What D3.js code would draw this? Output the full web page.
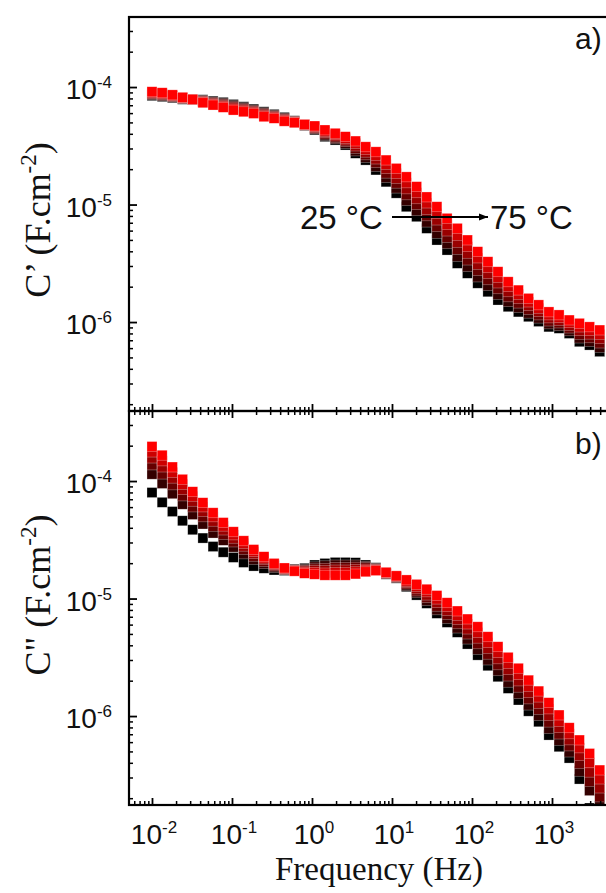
<!DOCTYPE html>
<html>
<head>
<meta charset="utf-8">
<script src="https://cdn.jsdelivr.net/npm/d3@7"></script>
<style>
body { margin: 0; background: #fff; }
</style>
</head>
<body>
<script>
// frequency (Hz)
const freq = [0.0100, 0.0134, 0.0180, 0.0241, 0.0323, 0.0433, 0.0580, 0.0777, 0.104, 0.140,
  0.187, 0.251, 0.336, 0.451, 0.604, 0.809, 1.08, 1.45, 1.95, 2.61,
  3.50, 4.69, 6.29, 8.43, 11.3, 15.1, 20.3, 27.2, 36.4, 48.8,
  65.5, 87.7, 118, 158, 211, 283, 380, 509, 682, 914,
  1225, 1641, 2200, 2948, 3950];

const temps = ["25", "35", "45", "55", "65", "75"];
const colors = ["#000000", "#330000", "#660000", "#990000", "#cc0000", "#ff0000"];

// C' in uF cm^-2
const cp25 = [84.3, 82.7, 80.9, 78.6, 78.2, 78.0, 76.0, 74.1, 71.1, 68.0,
  65.0, 61.6, 58.6, 55.3, 51.7, 47.0, 43.1, 37.8, 35.4, 32.1,
  27.3, 23.9, 19.7, 15.6, 12.5, 9.58, 7.88, 6.27, 4.99, 4.10,
  3.16, 2.60, 2.14, 1.81, 1.54, 1.35, 1.22, 1.11, 1.01, 0.91,
  0.884, 0.80, 0.68, 0.637, 0.56];
const cp35 = [85.6, 84.0, 81.9, 79.2, 78.3, 77.1, 74.8, 72.7, 69.6, 66.7,
  63.9, 60.4, 57.7, 54.5, 51.3, 47.2, 43.8, 38.8, 36.3, 33.2,
  28.6, 25.2, 21.1, 17.0, 13.8, 10.8, 8.86, 7.09, 5.69, 4.64,
  3.62, 2.96, 2.42, 2.04, 1.72, 1.49, 1.33, 1.19, 1.08, 0.965,
  0.932, 0.843, 0.731, 0.684, 0.609];
const cp45 = [87.0, 85.3, 82.8, 79.8, 78.3, 76.2, 73.7, 71.3, 68.0, 65.4,
  62.8, 59.3, 56.8, 53.6, 50.9, 47.4, 44.5, 39.8, 37.3, 34.3,
  30.1, 26.5, 22.7, 18.5, 15.2, 12.1, 9.97, 8.02, 6.48, 5.26,
  4.16, 3.37, 2.74, 2.29, 1.92, 1.64, 1.45, 1.28, 1.15, 1.02,
  0.982, 0.889, 0.785, 0.735, 0.663];
const cp55 = [88.4, 86.7, 83.8, 80.5, 78.4, 75.3, 72.5, 69.9, 66.6, 64.1,
  61.7, 58.1, 55.9, 52.8, 50.5, 47.6, 45.2, 40.9, 38.3, 35.4,
  31.5, 27.9, 24.4, 20.2, 16.7, 13.6, 11.2, 9.07, 7.38, 5.95,
  4.77, 3.85, 3.10, 2.58, 2.15, 1.81, 1.58, 1.38, 1.23, 1.085,
  1.035, 0.936, 0.844, 0.789, 0.722];
const cp65 = [89.8, 88.0, 84.8, 81.1, 78.4, 74.4, 71.4, 68.5, 65.1, 62.8,
  60.6, 57.0, 55.0, 52.0, 50.1, 47.8, 45.9, 42.0, 39.3, 36.6,
  33.1, 29.4, 26.2, 22.0, 18.4, 15.3, 12.6, 10.3, 8.41, 6.74,
  5.47, 4.38, 3.51, 2.90, 2.40, 2.00, 1.72, 1.48, 1.31, 1.15,
  1.09, 0.987, 0.907, 0.847, 0.786];
const cp75 = [91.2, 89.4, 85.8, 81.7, 78.5, 73.5, 70.3, 67.2, 63.7, 61.6,
  59.6, 55.9, 54.2, 51.2, 49.7, 48.0, 46.6, 43.1, 40.4, 37.8,
  34.7, 31.0, 28.1, 23.9, 20.3, 17.2, 14.2, 11.6, 9.58, 7.63,
  6.27, 4.99, 3.97, 3.26, 2.68, 2.20, 1.87, 1.59, 1.40, 1.22,
  1.15, 1.04, 0.975, 0.91, 0.855];

// C'' in uF cm^-2
const cpp25 = [79.8, 65.9, 55.0, 45.9, 38.5, 32.7, 27.7, 24.8, 22.4, 20.3,
  18.9, 18.1, 17.5, 17.3, 17.8, 18.1, 19.3, 19.9, 20.3, 20.3,
  20.2, 19.3, 18.3, 16.1, 14.9, 12.6, 10.7, 9.10, 7.48, 6.27,
  5.16, 4.10, 3.30, 2.68, 2.16, 1.72, 1.37, 1.10, 0.894, 0.689,
  0.548, 0.439, 0.291, 0.165, 0.144];
const cpp35 = [114.4, 95.3, 78.0, 63.5, 51.9, 43.1, 36.1, 31.3, 27.4, 24.0,
  21.5, 19.8, 18.4, 17.5, 17.7, 17.7, 18.6, 19.0, 19.3, 19.3,
  19.3, 18.8, 18.1, 16.2, 15.0, 12.9, 11.2, 9.62, 8.02, 6.77,
  5.61, 4.52, 3.69, 3.00, 2.43, 1.94, 1.55, 1.24, 1.01, 0.782,
  0.621, 0.494, 0.339, 0.232, 0.172];
const cpp45 = [137.1, 114.6, 92.8, 74.7, 60.2, 49.6, 41.2, 35.1, 30.3, 26.2,
  22.9, 20.7, 18.9, 17.7, 17.5, 17.4, 17.9, 18.1, 18.4, 18.4,
  18.5, 18.3, 17.9, 16.3, 15.2, 13.3, 11.6, 10.2, 8.60, 7.31,
  6.10, 4.99, 4.12, 3.36, 2.73, 2.19, 1.76, 1.40, 1.14, 0.888,
  0.703, 0.557, 0.395, 0.278, 0.205];
const cpp55 = [156.9, 131.6, 105.8, 84.4, 67.3, 55.0, 45.5, 38.3, 32.6, 27.9,
  24.1, 21.5, 19.3, 17.8, 17.4, 17.1, 17.3, 17.3, 17.5, 17.5,
  17.7, 17.8, 17.7, 16.5, 15.3, 13.7, 12.1, 10.7, 9.22, 7.90,
  6.63, 5.50, 4.60, 3.77, 3.07, 2.48, 1.99, 1.58, 1.28, 1.01,
  0.796, 0.627, 0.46, 0.333, 0.244];
const cpp65 = [176.4, 148.4, 118.5, 93.8, 74.2, 60.2, 49.6, 41.3, 34.8, 29.5,
  25.1, 22.1, 19.6, 18.0, 17.2, 16.7, 16.7, 16.5, 16.6, 16.6,
  16.9, 17.4, 17.5, 16.6, 15.5, 14.0, 12.7, 11.4, 9.89, 8.53,
  7.20, 6.07, 5.14, 4.22, 3.46, 2.80, 2.25, 1.79, 1.45, 1.15,
  0.901, 0.706, 0.536, 0.40, 0.291];
const cpp75 = [196.6, 165.8, 131.6, 103.4, 81.1, 65.4, 53.7, 44.3, 37.0, 31.0,
  26.1, 22.7, 19.9, 18.2, 17.1, 16.4, 16.1, 15.8, 15.8, 15.8,
  16.2, 16.9, 17.3, 16.7, 15.6, 14.4, 13.2, 12.0, 10.6, 9.21,
  7.83, 6.69, 5.75, 4.73, 3.89, 3.16, 2.55, 2.02, 1.63, 1.30,
  1.02, 0.795, 0.625, 0.48, 0.347];

const xTickVals = [1e-2, 1e-1, 1e0, 1e1, 1e2, 1e3];
const xTickExp = ["-2", "-1", "0", "1", "2", "3"];
const yTickVals = [1e-4, 1e-5, 1e-6];
const yTickExp = ["-4", "-5", "-6"];

const uF = 1e-6;
const width = 606, height = 893;
const left = 129, right = 612;

const svg = d3.select("body").append("svg")
  .attr("width", width)
  .attr("height", height);

const x = d3.scaleLog().domain([0.00516, 5623]).range([left, right]);

const panels = [
  { id: "a", top: 17, bottom: 411, data: [cp25, cp35, cp45, cp55, cp65, cp75],
    title: "C\u2019 (F.cm", label: "a)", labelY: 49, titleY: 220 },
  { id: "b", top: 411, bottom: 805, data: [cpp25, cpp35, cpp45, cpp55, cpp65, cpp75],
    title: "C\" (F.cm", label: "b)", labelY: 454, titleY: 595 }
];

const sans = "'Liberation Sans', Arial, sans-serif";
const serif = "'Liberation Serif', 'Times New Roman', serif";

function powLabel(t, exp) {
  t.append("tspan").text("10");
  t.append("tspan").attr("dy", -11).attr("font-size", 17).text(exp);
}

panels.forEach(p => {
  const y = d3.scaleLog().domain([3.945e-4, 1.75e-7]).range([p.top, p.bottom]);

  svg.append("clipPath").attr("id", "clip-" + p.id)
    .append("rect")
      .attr("x", left).attr("y", p.top)
      .attr("width", right - left).attr("height", p.bottom - p.top);

  const g = svg.append("g").attr("clip-path", "url(#clip-" + p.id + ")");

  // 25 °C drawn first, 75 °C last
  p.data.forEach((vals, i) => {
    g.append("g")
      .selectAll("rect")
      .data(vals.map((v, k) => [freq[k], v * uF]))
      .join("rect")
        .attr("x", d => x(d[0]) - 5)
        .attr("y", d => y(d[1]) - 5)
        .attr("width", 10)
        .attr("height", 10)
        .attr("fill", colors[i])
        .attr("stroke", "#ffffff")
        .attr("stroke-opacity", 0.45)
        .attr("stroke-width", 0.6);
  });

  // y ticks (inside)
  const yMinor = y.ticks().filter(v => !yTickVals.some(t => Math.abs(t - v) / t < 1e-6));
  svg.append("g")
    .attr("transform", `translate(${left},0)`)
    .call(d3.axisRight(y).tickValues(yMinor).tickSize(4).tickFormat(""))
    .call(a => a.select(".domain").remove())
    .selectAll("line").attr("stroke-width", 1.5);
  svg.append("g")
    .attr("transform", `translate(${left},0)`)
    .call(d3.axisRight(y).tickValues(yTickVals).tickSize(8).tickFormat(""))
    .call(a => a.select(".domain").remove())
    .selectAll("line").attr("stroke-width", 1.8);

  // y tick labels
  yTickVals.forEach((v, i) => {
    const t = svg.append("text")
      .attr("x", 112).attr("y", y(v) + 12)
      .attr("text-anchor", "end")
      .attr("font-family", sans).attr("font-size", 28)
      .attr("fill", "#111");
    powLabel(t, yTickExp[i]);
  });

  // x ticks: bottom of each panel pointing up, top of panel b pointing down
  const xMinor = x.ticks().filter(v => !xTickVals.some(t => Math.abs(t - v) / t < 1e-6));
  const xTicksAt = (yPos, axisFn) => {
    svg.append("g")
      .attr("transform", `translate(0,${yPos})`)
      .call(axisFn(x).tickValues(xMinor).tickSize(4).tickFormat(""))
      .call(a => a.select(".domain").remove())
      .selectAll("line").attr("stroke-width", 1.5);
    svg.append("g")
      .attr("transform", `translate(0,${yPos})`)
      .call(axisFn(x).tickValues(xTickVals).tickSize(7).tickFormat(""))
      .call(a => a.select(".domain").remove())
      .selectAll("line").attr("stroke-width", 1.8);
  };
  xTicksAt(p.bottom, d3.axisTop);
  if (p.id === "b") xTicksAt(p.top, d3.axisBottom);

  // frame
  svg.append("rect")
    .attr("x", left).attr("y", p.top)
    .attr("width", right - left).attr("height", p.bottom - p.top)
    .attr("fill", "none").attr("stroke", "#000").attr("stroke-width", 2.2);

  // y title
  const yt = svg.append("text")
    .attr("transform", `translate(50,${p.titleY}) rotate(-90)`)
    .attr("text-anchor", "middle")
    .attr("font-family", serif).attr("font-size", 36)
    .attr("fill", "#111");
  yt.append("tspan").text(p.title);
  yt.append("tspan").attr("dy", -14).attr("font-size", 23).text("-2");
  yt.append("tspan").attr("dy", 14).text(")");

  // panel label
  svg.append("text")
    .attr("x", 575).attr("y", p.labelY)
    .attr("font-family", sans).attr("font-size", 30)
    .attr("fill", "#111")
    .text(p.label);
});

// x tick labels
xTickVals.forEach((v, i) => {
  const t = svg.append("text")
    .attr("x", x(v) + 2).attr("y", 844)
    .attr("text-anchor", "middle")
    .attr("font-family", sans).attr("font-size", 28)
    .attr("fill", "#111");
  powLabel(t, xTickExp[i]);
});

// x title
svg.append("text")
  .attr("x", 379).attr("y", 880)
  .attr("text-anchor", "middle")
  .attr("font-family", serif).attr("font-size", 33)
  .attr("fill", "#111")
  .text("Frequency (Hz)");

// temperature arrow
svg.append("defs").append("marker")
  .attr("id", "head")
  .attr("viewBox", "0 0 10 10")
  .attr("refX", 10).attr("refY", 5)
  .attr("markerWidth", 9).attr("markerHeight", 9)
  .attr("markerUnits", "userSpaceOnUse")
  .attr("orient", "auto")
  .append("path").attr("d", "M0,1 L10,5 L0,9 Z").attr("fill", "#000");

svg.append("line")
  .attr("x1", 392).attr("y1", 217)
  .attr("x2", 488).attr("y2", 217)
  .attr("stroke", "#000").attr("stroke-width", 2)
  .attr("marker-end", "url(#head)");

svg.append("text")
  .attr("x", 300).attr("y", 229)
  .attr("font-family", sans).attr("font-size", 33)
  .attr("fill", "#111")
  .text("25 °C");
svg.append("text")
  .attr("x", 490).attr("y", 229)
  .attr("font-family", sans).attr("font-size", 33)
  .attr("fill", "#111")
  .text("75 °C");
</script>
</body>
</html>
